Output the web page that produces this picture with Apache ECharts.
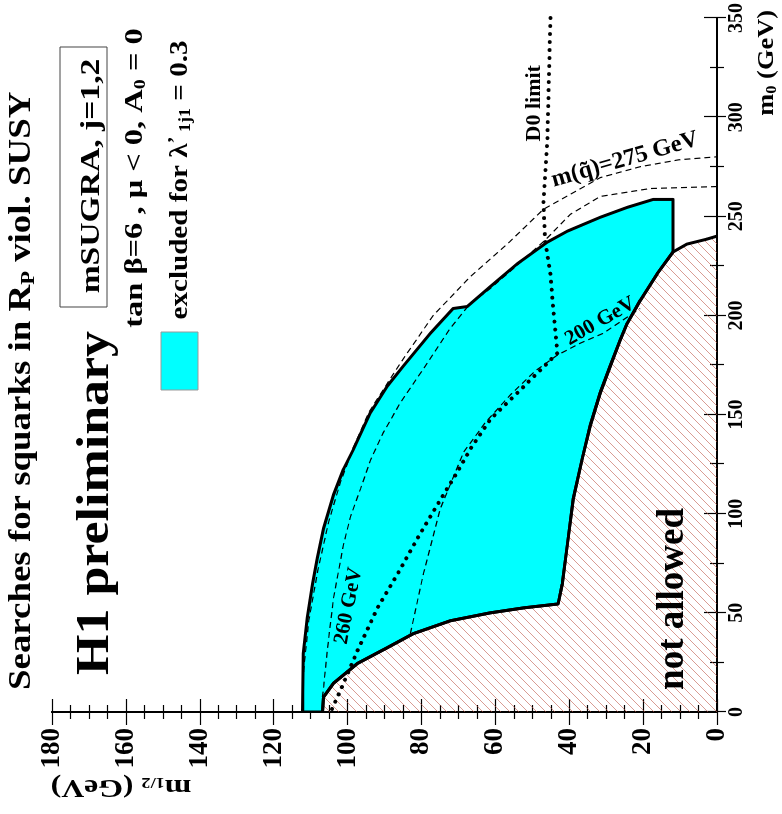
<!DOCTYPE html>
<html>
<head>
<meta charset="utf-8">
<title>Searches for squarks in Rp viol. SUSY</title>
<script src="https://cdn.jsdelivr.net/npm/echarts/dist/echarts.min.js"></script>
<style>
    html, body {margin: 0; padding: 0; background: #fff; overflow: hidden; width: 782px; height: 814px;}
    /* the plot is drawn upright and then turned a quarter left, like the scanned page */
    #main {position: absolute; left: 0; top: 0; width: 814px; height: 782px;
        transform-origin: 0 0; transform: translate(0, 814px) rotate(-90deg);}
</style>
</head>
<body>
<div id="main"></div>
<script>
// all points are [m0, m1/2] in GeV
let excludedUpper = [[0, 112.2], [29.5, 112.0], [47.5, 110.9], [64.5, 109.5], [77.5, 108.2], [92.5, 106.5],
    [109.5, 103.8], [122.5, 101.1], [132.5, 98.4], [151, 93.8], [164.5, 89.2], [174.5, 84.9], [191, 77.6],
    [203.5, 71.4], [204.5, 67.6], [214.5, 61.4], [226, 54.1], [237, 45.9], [242.5, 40.5], [249.5, 31.6],
    [254.5, 24.3], [258.5, 17.3], [258.5, 11.9]];
let excludedStep = [[232, 11.9], [221, 16.2], [207.5, 20.8], [196, 24.3], [187.5, 26.2], [174.5, 28.9],
    [161, 31.6], [144.5, 34.3], [127.5, 36.5], [107.5, 38.9], [84.5, 40.5], [64.5, 41.9], [54.5, 43.0]];
let excludedLower = [[52.5, 52.4], [50, 61.4], [46, 72.2], [39.5, 82.2], [32.5, 89.2], [24.5, 97.3],
    [14.5, 103.8], [7.5, 106.5], [0, 106.8]];
let notAllowedTail = [[236, 8.1], [238.5, 2.7], [240, 0]];

let squark275 = [[0, 112.2], [21, 111.9], [46, 110.5], [71, 108.1], [96, 105.1], [116, 101.9], [132.5, 98.6],
    [151, 94.3], [176, 85.7], [200, 76.8], [219.5, 66.8], [237, 56.2], [253.5, 47.0], [269.5, 31.6],
    [275, 20.8], [278.5, 10.3], [280, 0]];
let squark260 = [[265, 0], [264, 18.1], [260, 31.6], [251, 39.7], [238, 46.5], [225, 54.3], [213.5, 61.4],
    [206, 66.8], [193.5, 72.2], [176, 78.4], [156, 85.7], [141, 90.3], [127, 93.8], [112.5, 96.5],
    [98.5, 99.2], [84.5, 101.1], [57.5, 103.8], [32.5, 105.4], [12.5, 106.5], [7.5, 106.8]];
let squark200 = [[39.5, 83.0], [69.5, 79.5], [102.5, 74.9], [131, 68.6], [146, 62.7], [160, 55.9], [172, 49.2],
    [180, 43.2], [186, 37.0], [191, 30.8], [203.5, 20.8]];
let d0Limit = [[350, 45.1], [289.5, 45.9], [256, 47.0], [237.5, 46.5], [221, 45.1], [202.5, 44.3], [181, 43.2],
    [171, 48.6], [162.5, 53.2], [147.5, 61.4], [132.5, 66.8], [121, 70.3], [104.5, 75.7], [87.5, 81.1],
    [69.5, 86.5], [52.5, 91.9], [31, 97.3], [11, 101.9], [0, 104.6]];

let curveLabelText = ['D0 limit', 'm(q\u0303)=275 GeV', '200 GeV', '260 GeV', 'not allowed'];
let curveLabelAt = [[307, 49.5], [278.5, 24.9], [197, 31.6], [53.5, 99.7], [57, 11.9]];

let m0Ticks = [0, 350, 50];
let m12Ticks = [0, 180, 20];

const FONT = '"Liberation Serif", "Times New Roman", serif';

let excludedPolygon = excludedUpper.concat(excludedStep, excludedLower);
let notAllowedEdge = excludedLower.slice().reverse().concat(excludedStep.slice().reverse(), notAllowedTail);
let notAllowedPolygon = notAllowedEdge.concat([[0, 0]]);

// red hatching
let hatch = document.createElement('canvas');
hatch.width = 9;
hatch.height = 9;
let hctx = hatch.getContext('2d');
hctx.strokeStyle = 'rgba(190,85,70,0.65)';
hctx.lineWidth = 0.9;
hctx.beginPath();
hctx.moveTo(-1, 10); hctx.lineTo(10, -1);
hctx.moveTo(-1, 1); hctx.lineTo(1, -1);
hctx.moveTo(8, 10); hctx.lineTo(10, 8);
hctx.stroke();

function polygon(points, style, z) {
    return {
        type: 'custom',
        data: points,
        z: z,
        clip: true,
        silent: true,
        renderItem: function (params, api) {
            if (params.dataIndex !== 0) return null;
            return {
                type: 'polygon',
                shape: {points: points.map(function (p) { return api.coord(p); })},
                style: style
            };
        }
    };
}

function curve(points, lineStyle, z) {
    return {type: 'line', data: points, showSymbol: false, symbol: 'none', z: z, silent: true,
        lineStyle: lineStyle, clip: true};
}

let dashed = {color: '#000', width: 1.2, type: [6, 4]};
let labelStyle = [
    {fontSize: 22, rotate: 0},
    {fontSize: 24, rotate: -74},
    {fontSize: 21, rotate: -60},
    {fontSize: 21, rotate: -11},
    {fontSize: 37, rotate: 0}
];

function rich(size, pad) {
    return {fontSize: size, fontWeight: 'bold', fontFamily: FONT, padding: pad};
}

let chart = echarts.init(document.getElementById('main'));

let axisCommon = {
    type: 'value',
    axisLine: {show: true, lineStyle: {color: '#000', width: 2}},
    axisTick: {show: true, inside: true, length: 13, lineStyle: {color: '#000', width: 1.2}},
    minorTick: {show: true, length: 7, lineStyle: {color: '#000', width: 1.2}},
    splitLine: {show: false},
    minorSplitLine: {show: false}
};

chart.setOption({
    animation: false,
    backgroundColor: '#fff',
    grid: {left: 102, right: 12, top: 52, bottom: 65},
    xAxis: [
        Object.assign({}, axisCommon, {
            position: 'bottom', min: m0Ticks[0], max: m0Ticks[1], interval: m0Ticks[2],
            minorTick: Object.assign({}, axisCommon.minorTick, {splitNumber: 2}),
            axisLabel: {fontFamily: FONT, fontWeight: 'bold', fontSize: 20, color: '#000', margin: 10,
                showMaxLabel: true}
        }),
        Object.assign({}, axisCommon, {
            position: 'top', min: m0Ticks[0], max: m0Ticks[1], interval: m0Ticks[2],
            minorTick: Object.assign({}, axisCommon.minorTick, {splitNumber: 2}),
            axisTick: Object.assign({}, axisCommon.axisTick, {length: 9}),
            axisLabel: {show: false}
        })
    ],
    yAxis: [
        Object.assign({}, axisCommon, {
            position: 'left', min: m12Ticks[0], max: m12Ticks[1], interval: m12Ticks[2],
            minorTick: Object.assign({}, axisCommon.minorTick, {splitNumber: 4}),
            axisLabel: {fontFamily: FONT, fontWeight: 'bold', fontSize: 27, color: '#000', margin: 16}
        }),
        Object.assign({}, axisCommon, {
            position: 'right', min: m12Ticks[0], max: m12Ticks[1], interval: m12Ticks[2],
            minorTick: Object.assign({}, axisCommon.minorTick, {splitNumber: 4}),
            axisLabel: {show: false}
        })
    ],
    graphic: [
        {type: 'text', x: 124, y: 22, scaleX: 1.19, style: {
            text: 'Searches for squarks in R{sub|P} viol. SUSY', font: 'bold 31px ' + FONT, fill: '#000',
            textVerticalAlign: 'middle', rich: {sub: rich(19, [14, 0, 0, 0])}
        }},
        {type: 'text', x: 139, y: 96, scaleX: 1.13, style: {
            text: 'H1 preliminary', font: 'bold 46px ' + FONT, fill: '#000', textVerticalAlign: 'middle'
        }},
        {type: 'rect', shape: {x: 507, y: 60, width: 260, height: 47},
            style: {fill: 'none', stroke: '#444', lineWidth: 1}},
        {type: 'text', x: 638, y: 92, scaleX: 1.2, style: {
            text: 'mSUGRA, j=1,2', font: 'bold 28px ' + FONT, fill: '#000',
            textAlign: 'center', textVerticalAlign: 'middle'
        }},
        {type: 'text', x: 636, y: 135, scaleX: 1.25, style: {
            text: 'tan \u03b2=6 , \u03bc < 0, A{sub|0} = 0', font: 'bold 26px ' + FONT, fill: '#000',
            textAlign: 'center', textVerticalAlign: 'middle', rich: {sub: rich(16, [11, 0, 0, 0])}
        }},
        {type: 'rect', shape: {x: 424, y: 161, width: 58, height: 37},
            style: {fill: '#00ffff', stroke: '#999', lineWidth: 1}},
        {type: 'text', x: 634, y: 180, scaleX: 1.12, style: {
            text: 'excluded for \u03bb{sup|\u2019}{sub| 1j1} = 0.3', font: 'bold 26px ' + FONT, fill: '#000',
            textAlign: 'center', textVerticalAlign: 'middle',
            rich: {sup: rich(19, [0, 0, 8, 0]), sub: rich(16, [11, 0, 0, 0])}
        }},
        {type: 'text', x: 804, y: 767, scaleX: 1.1, style: {
            text: 'm{sub|0} (GeV)', font: 'bold 24px ' + FONT, fill: '#000',
            textAlign: 'right', textVerticalAlign: 'middle', rich: {sub: rich(15, [10, 0, 0, 0])}
        }},
        {type: 'text', x: 27, y: 121, rotation: Math.PI / 2, scaleX: 1.22, style: {
            text: 'm{sub|1/2} (GeV)', font: 'bold 26px ' + FONT, fill: '#000',
            textAlign: 'center', textVerticalAlign: 'middle', rich: {sub: rich(15, [10, 0, 0, 0])}
        }}
    ],
    series: [
        polygon(notAllowedPolygon, {fill: {image: hatch, repeat: 'repeat'}}, 1),
        curve(notAllowedEdge, {color: '#000', width: 3}, 3),
        polygon(excludedPolygon, {fill: '#00ffff', stroke: '#000', lineWidth: 3, lineJoin: 'round'}, 2),
        curve(squark275, dashed, 4),
        curve(squark260, dashed, 4),
        curve(squark200, dashed, 4),
        curve(d0Limit, {color: '#000', width: 4, type: [0.01, 8], cap: 'round'}, 5),
        {
            type: 'scatter', symbolSize: 0, z: 6, silent: true,
            itemStyle: {opacity: 1},
            data: curveLabelAt.map(function (p, i) {
                return {
                    value: p,
                    label: {
                        show: true, position: 'inside', formatter: curveLabelText[i],
                        fontFamily: FONT, fontWeight: 'bold', color: '#000', opacity: 1,
                        textBorderWidth: 0, textBorderColor: 'transparent',
                        fontSize: labelStyle[i].fontSize, rotate: labelStyle[i].rotate
                    }
                };
            })
        }
    ]
});
</script>
</body>
</html>
